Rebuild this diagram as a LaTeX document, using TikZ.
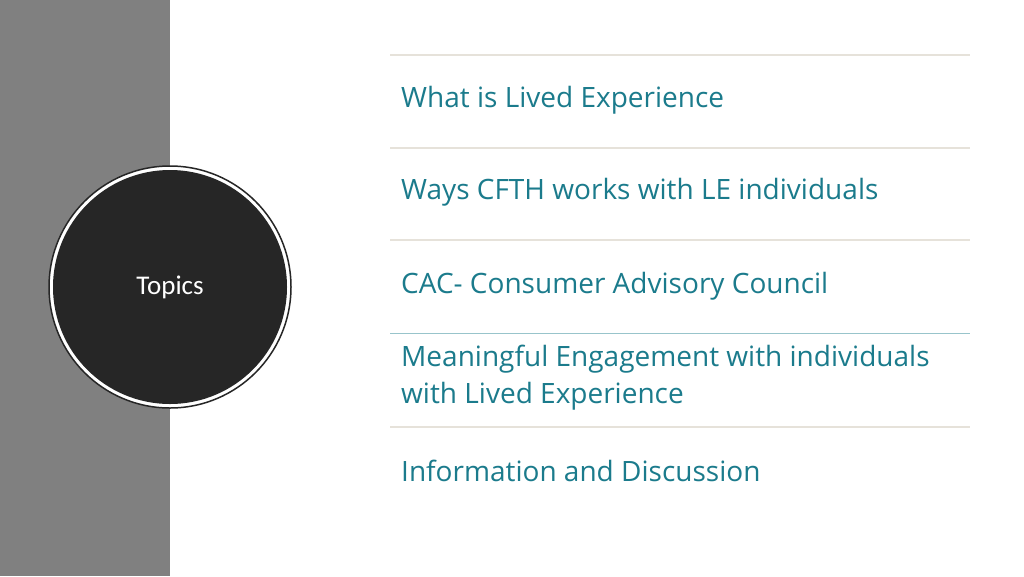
\documentclass[tikz,border=0pt]{standalone}
\usepackage{fontspec}
\setmainfont{Open Sans}
\newfontfamily\carl{Carlito}
\definecolor{teal1}{HTML}{1B7B8C}
\definecolor{sep}{HTML}{E6E2DA}
\begin{document}
\begin{tikzpicture}[x=1pt,y=-1pt,
  item/.style={anchor=west,text=teal1,font=\fontsize{28}{37}\selectfont,align=left,inner sep=0},
  sepline/.style={draw=sep,line width=2.5pt}]
\useasboundingbox (0,0) rectangle (1024,576);
\fill[white] (0,0) rectangle (1024,576);
\fill[black!50] (0,0) rectangle (170,576);
\node[circle,minimum size=242pt,draw=black!85,line width=1.5pt,fill=white,inner sep=0] (ring) at (170,287) {};
\node[circle,minimum size=234pt,fill=black!85,inner sep=0,text=white,font=\carl\fontsize{27}{30}\selectfont] (c) at (170,287) {Topics};
\coordinate (l1a) at (390,55); \coordinate (l1b) at (970,55);
\coordinate (l2a) at (390,148); \coordinate (l2b) at (970,148);
\coordinate (l3a) at (390,240); \coordinate (l3b) at (970,240);
\coordinate (l4a) at (390,333); \coordinate (l4b) at (970,333);
\coordinate (l5a) at (390,427); \coordinate (l5b) at (970,427);
\draw[sepline] (l1a) -- (l1b);
\draw[sepline] (l2a) -- (l2b);
\draw[sepline] (l3a) -- (l3b);
\draw[draw=teal1!45,line width=1pt] (l4a) -- (l4b);
\draw[sepline] (l5a) -- (l5b);
\node[item] (t1) at (401,100) {What is Lived Experience};
\node[item] (t2) at (401,192) {Ways CFTH works with LE individuals};
\node[item] (t3) at (401,286) {CAC- Consumer Advisory Council};
\node[item] (t4) at (401,378) {Meaningful Engagement with individuals\\with Lived Experience};
\node[item] (t5) at (401,471) {Information and Discussion};
\end{tikzpicture}
\end{document}
